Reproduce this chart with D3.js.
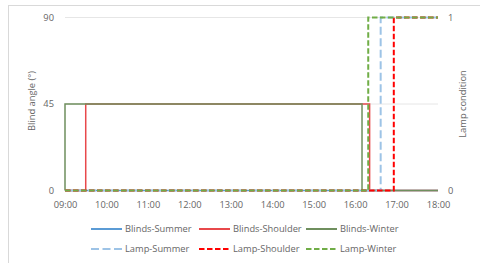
<!DOCTYPE html>
<html>
<head>
<meta charset="utf-8">
<script src="https://cdn.jsdelivr.net/npm/d3@7"></script>
<style>
  body { margin: 0; background: #fff; }
  text { font-family: "Open Sans", sans-serif; fill: #666; }
</style>
</head>
<body>
<div id="chart"></div>
<script>
// step series, [time, value] change points
const blindsSummer = [["09:00", 0], ["18:00", 0]];
const blindsShoulder = [["09:00", 0], ["09:30", 45], ["16:21", 0], ["18:00", 0]];
const blindsWinter = [["09:00", 0], ["09:00", 45], ["16:10", 0], ["18:00", 0]];
const lampSummer = [["09:00", 0], ["16:37", 1], ["18:00", 1]];
const lampShoulder = [["09:00", 0], ["16:56", 1], ["18:00", 1]];
const lampWinter = [["09:00", 0], ["16:19", 1], ["18:00", 1]];

const leftTicks = [0, 45, 90];
const rightTicks = [0, 1];
const timeDomain = ["09:00", "18:00"];

const series = [
  {name: 'Blinds-Summer', data: blindsSummer, axis: 'left', color: '#5b9bd5', dash: null, w: 1.5},
  {name: 'Blinds-Shoulder', data: blindsShoulder, axis: 'left', color: '#e8484b', dash: null, w: 1.5},
  {name: 'Blinds-Winter', data: blindsWinter, axis: 'left', color: '#6f8f5e', dash: null, w: 1.5},
  {name: 'Lamp-Summer', data: lampSummer, axis: 'right', color: '#9dc3e6', dash: '8,3.5', w: 2},
  {name: 'Lamp-Shoulder', data: lampShoulder, axis: 'right', color: '#ff0000', dash: '5.5,2.5', w: 2},
  {name: 'Lamp-Winter', data: lampWinter, axis: 'right', color: '#70ad47', dash: '5.5,2.5', w: 2}
];

const W = 480, H = 263;
const parse = d3.timeParse('%H:%M');

const svg = d3.select('#chart').append('svg')
  .attr('width', W)
  .attr('height', H);

// chart frame
svg.append('rect')
  .attr('x', 8.5).attr('y', 5.5)
  .attr('width', 500).attr('height', 300)
  .attr('fill', 'none')
  .attr('stroke', '#d9d9d9');

const x = d3.scaleTime().domain(timeDomain.map(parse)).range([65, 438]);
const yL = d3.scaleLinear().domain([0, 90]).range([190.5, 17.5]);
const yR = d3.scaleLinear().domain([0, 1]).range([190.5, 17.5]);

// gridlines
svg.append('g')
  .selectAll('line')
  .data(leftTicks.filter(d => d > 0))
  .join('line')
  .attr('x1', x.range()[0]).attr('x2', x.range()[1])
  .attr('y1', d => yL(d)).attr('y2', d => yL(d))
  .attr('stroke', '#e6e6e6');

svg.append('line')
  .attr('x1', x.range()[0]).attr('x2', x.range()[1])
  .attr('y1', yL(0)).attr('y2', yL(0))
  .attr('stroke', '#bfbfbf');

// axes
const fs = '9.3px';
const xAxis = svg.append('g')
  .attr('transform', `translate(0, ${yL(0)})`)
  .call(d3.axisBottom(x).ticks(d3.timeHour.every(1)).tickFormat(d3.timeFormat('%H:%M')).tickSize(0).tickPadding(11));
const leftAxis = svg.append('g')
  .attr('transform', 'translate(65, 0)')
  .call(d3.axisLeft(yL).tickValues(leftTicks).tickSize(0).tickPadding(11));
const rightAxis = svg.append('g')
  .attr('transform', 'translate(438, 0)')
  .call(d3.axisRight(yR).tickValues(rightTicks).tickFormat(d3.format('d')).tickSize(0).tickPadding(10));
[xAxis, leftAxis, rightAxis].forEach(a => {
  a.select('.domain').remove();
  a.selectAll('text').style('font-size', fs).attr('fill', '#666');
  a.attr('font-family', null);
});

svg.append('text')
  .attr('transform', 'translate(35, 101) rotate(-90)')
  .attr('text-anchor', 'middle')
  .style('font-size', fs)
  .text('Blind angle (°)');

svg.append('text')
  .attr('transform', 'translate(466, 104) rotate(-90)')
  .attr('text-anchor', 'middle')
  .style('font-size', fs)
  .text('Lamp condition');

// lines
const lineL = d3.line().curve(d3.curveStepAfter).x(d => x(parse(d[0]))).y(d => yL(d[1]));
const lineR = d3.line().curve(d3.curveStepAfter).x(d => x(parse(d[0]))).y(d => yR(d[1]));

series.forEach(s => {
  svg.append('path')
    .datum(s.data)
    .attr('class', 'line')
    .attr('d', s.axis === 'left' ? lineL : lineR)
    .attr('fill', 'none')
    .attr('stroke', s.color)
    .attr('stroke-width', s.w)
    .attr('stroke-dasharray', s.dash);
});

// legend
const legX = [91, 199, 306];
const legY = [229, 249];
series.forEach((s, i) => {
  const g = svg.append('g')
    .attr('transform', `translate(${legX[i % 3]}, ${legY[Math.floor(i / 3)]})`);
  g.append('line')
    .attr('x1', 0).attr('x2', 31)
    .attr('stroke', s.color)
    .attr('stroke-width', 2)
    .attr('stroke-dasharray', s.dash);
  g.append('text')
    .attr('x', 34).attr('dy', '0.35em')
    .style('font-size', fs)
    .text(s.name);
});
</script>
</body>
</html>
